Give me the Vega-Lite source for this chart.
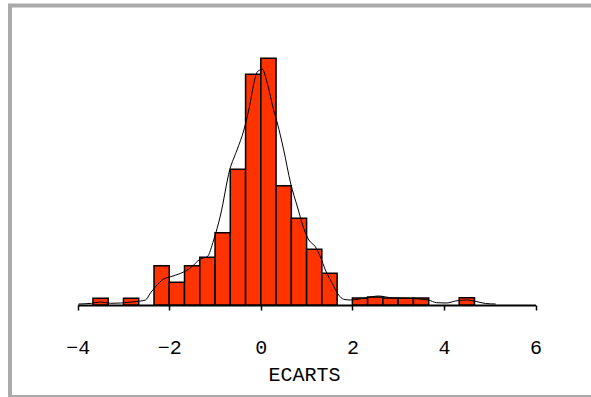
{
  "$schema": "https://vega.github.io/schema/vega-lite/v6.json",
  "autosize": {"type": "none"},
  "padding": {"left": 10, "top": 5.5, "right": -4, "bottom": 0},
  "width": 585,
  "height": 391.5,
  "background": "white",
  "config": {
    "view": {"stroke": "#aaaaaa", "strokeWidth": 4},
    "font": "Liberation Mono"
  },
  "datasets": {
    "bins": [
      {"lo": -3.667, "hi": -3.333, "pct": 0.67},
      {"lo": -3.0, "hi": -2.667, "pct": 0.67},
      {"lo": -2.333, "hi": -2.0, "pct": 3.93},
      {"lo": -2.0, "hi": -1.667, "pct": 2.27},
      {"lo": -1.667, "hi": -1.333, "pct": 3.93},
      {"lo": -1.333, "hi": -1.0, "pct": 4.77},
      {"lo": -1.0, "hi": -0.667, "pct": 7.23},
      {"lo": -0.667, "hi": -0.333, "pct": 13.57},
      {"lo": -0.333, "hi": 0.0, "pct": 23.07},
      {"lo": 0.0, "hi": 0.333, "pct": 24.67},
      {"lo": 0.333, "hi": 0.667, "pct": 11.93},
      {"lo": 0.667, "hi": 1.0, "pct": 8.67},
      {"lo": 1.0, "hi": 1.333, "pct": 5.57},
      {"lo": 1.333, "hi": 1.667, "pct": 3.17},
      {"lo": 2.0, "hi": 2.333, "pct": 0.7},
      {"lo": 2.333, "hi": 2.667, "pct": 0.8},
      {"lo": 2.667, "hi": 3.0, "pct": 0.7},
      {"lo": 3.0, "hi": 3.333, "pct": 0.7},
      {"lo": 3.333, "hi": 3.667, "pct": 0.7},
      {"lo": 4.333, "hi": 4.667, "pct": 0.73}
    ],
    "curve": [
      {"x": -3.98, "d": 0.1},
      {"x": -3.7, "d": 0.17},
      {"x": -3.5, "d": 0.3},
      {"x": -3.28, "d": 0.17},
      {"x": -3.06, "d": 0.2},
      {"x": -2.82, "d": 0.3},
      {"x": -2.63, "d": 0.4},
      {"x": -2.52, "d": 0.5},
      {"x": -2.41, "d": 1.2},
      {"x": -2.3, "d": 1.83},
      {"x": -2.13, "d": 2.57},
      {"x": -1.97, "d": 2.83},
      {"x": -1.75, "d": 3.17},
      {"x": -1.54, "d": 3.7},
      {"x": -1.32, "d": 4.6},
      {"x": -1.17, "d": 4.83},
      {"x": -1.03, "d": 6.5},
      {"x": -0.88, "d": 9.0},
      {"x": -0.68, "d": 13.5},
      {"x": -0.52, "d": 15.5},
      {"x": -0.37, "d": 17.5},
      {"x": -0.22, "d": 20.5},
      {"x": -0.16, "d": 22.0},
      {"x": -0.08, "d": 23.3},
      {"x": -0.02, "d": 23.5},
      {"x": 0.03, "d": 23.6},
      {"x": 0.14, "d": 22.2},
      {"x": 0.28, "d": 19.5},
      {"x": 0.36, "d": 18.2},
      {"x": 0.5, "d": 15.5},
      {"x": 0.65, "d": 12.2},
      {"x": 0.8, "d": 9.8},
      {"x": 0.95, "d": 7.5},
      {"x": 1.05, "d": 6.5},
      {"x": 1.19, "d": 5.83},
      {"x": 1.3, "d": 4.83},
      {"x": 1.41, "d": 3.5},
      {"x": 1.56, "d": 2.17},
      {"x": 1.7, "d": 1.0},
      {"x": 1.81, "d": 0.57},
      {"x": 1.96, "d": 0.5},
      {"x": 2.29, "d": 0.7},
      {"x": 2.57, "d": 0.9},
      {"x": 2.88, "d": 0.7},
      {"x": 3.27, "d": 0.65},
      {"x": 3.66, "d": 0.5},
      {"x": 3.84, "d": 0.23},
      {"x": 4.06, "d": 0.2},
      {"x": 4.25, "d": 0.4},
      {"x": 4.49, "d": 0.5},
      {"x": 4.71, "d": 0.35},
      {"x": 4.91, "d": 0.15},
      {"x": 5.13, "d": 0.1}
    ]
  },
  "layer": [
    {
      "data": {"name": "bins"},
      "mark": {"type": "bar", "color": "#ff3300", "stroke": "black", "strokeWidth": 1.5},
      "encoding": {
        "x": {
          "field": "lo", "type": "quantitative",
          "scale": {"domain": [-4, 6], "range": [67.7, 525.5], "nice": false, "zero": false},
          "axis": {
            "title": "ECARTS",
            "values": [-4, -2, 0, 2, 4, 6],
            "format": "d",
            "offset": -92,
            "grid": false,
            "domainColor": "black", "domainWidth": 2,
            "tickColor": "black", "tickWidth": 1.5, "tickSize": 5,
            "labelFont": "Liberation Mono", "labelFontSize": 20, "labelColor": "black",
            "labelBaseline": "alphabetic", "labelPadding": 43,
            "labelFlush": false,
            "titleFont": "Liberation Mono", "titleFontSize": 20, "titleFontWeight": "normal",
            "titleColor": "black", "titleBaseline": "alphabetic", "titleY": 75, "titleX": 294
          }
        },
        "x2": {"field": "hi"},
        "y": {
          "field": "pct", "type": "quantitative",
          "scale": {"domain": [0, 29.95], "range": [299.5, 0], "nice": false},
          "axis": null
        },
        "y2": {"datum": 0}
      }
    },
    {
      "data": {"name": "curve"},
      "mark": {"type": "line", "color": "black", "strokeWidth": 1, "interpolate": "monotone"},
      "encoding": {
        "x": {"field": "x", "type": "quantitative"},
        "y": {"field": "d", "type": "quantitative"}
      }
    }
  ]
}
